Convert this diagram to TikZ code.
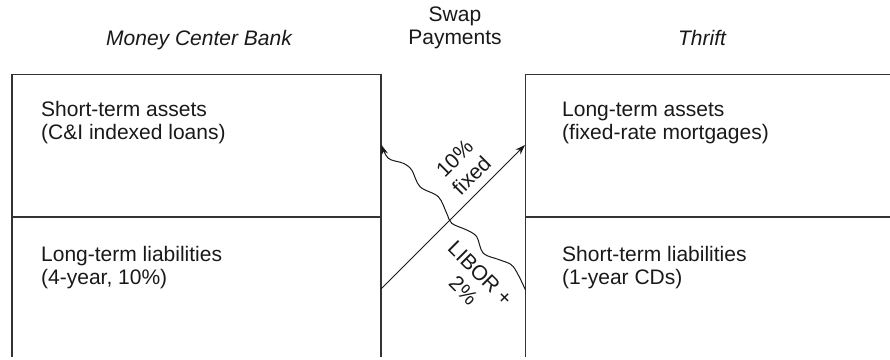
\documentclass[tikz,border=0pt]{standalone}
\usepackage{fontspec}
\setmainfont{Liberation Sans}
\usetikzlibrary{arrows.meta}
\begin{document}
\begin{tikzpicture}[x=1pt,y=-1pt,
  frame/.style={draw=black!80, line width=1.2pt},
  lbl/.style={font=\fontsize{21}{23}\selectfont, text=black!90, inner sep=0pt, align=left},
  hdr/.style={font=\fontsize{21}{23}\selectfont\itshape, text=black!90, inner sep=0pt},
  rlbl/.style={font=\fontsize{21}{24}\selectfont, text=black!90, inner sep=0pt, align=center},
  swap/.style={draw=black!90, line width=1pt, -{Stealth[length=10pt,width=7pt]}}]
\useasboundingbox (0,0) rectangle (890,359);
% frames
\coordinate (aTL) at (12,74.5);
\coordinate (aTR) at (381,74.5);
\coordinate (aBL) at (12,357);
\coordinate (aBR) at (381,357);
\coordinate (aML) at (12,217);
\coordinate (aMR) at (381,217);
\coordinate (bTL) at (525.5,74.5);
\coordinate (bTR) at (890,74.5);
\coordinate (bBL) at (525.5,357);
\coordinate (bML) at (525.5,217);
\coordinate (bMR) at (890,217);
\draw[frame] (aBL) -- (aTL) -- (aTR) -- (aBR);
\draw[frame] (aML) -- (aMR);
\draw[frame] (bTR) -- (bTL) -- (bBL);
\draw[frame] (bML) -- (bMR);
% headers
\node[hdr, anchor=base] (mcb) at (199,45) {Money Center Bank};
\node[hdr, anchor=base] (thr) at (702,45) {Thrift};
\node[rlbl, anchor=north, font=\fontsize{21}{23}\selectfont] (swp) at (455,7) {Swap\\Payments};
% box texts
\node[lbl, anchor=north west] (sta) at (41,101.5) {Short-term assets\\(C\&I indexed loans)};
\node[lbl, anchor=north west] (ltl) at (41,246.5) {Long-term liabilities\\(4-year, 10\%)};
\node[lbl, anchor=north west] (lta) at (562,101.5) {Long-term assets\\(fixed-rate mortgages)};
\node[lbl, anchor=north west] (stl) at (562,246.5) {Short-term liabilities\\(1-year CDs)};
% swap arrows
\coordinate (mL) at (381,289);
\coordinate (mU) at (381.5,145);
\coordinate (tL) at (525.5,290);
\coordinate (tU) at (525,145);
\draw[swap] (mL) -- (tU);
\draw[swap] plot[smooth, tension=0.55] coordinates {(tL) (513.3,266.7) (500,260) (483.3,253.3) (476.7,236.7) (466.7,230) (451.7,223.3) (446.7,213.3) (438.3,196.7) (420,186.7) (411.7,170) (403.3,163.3) (388.3,158.3) (mU)};
\node[rlbl, rotate=45] (fix) at (463,167) {10\%\\fixed};
\node[rlbl, rotate=-45] (lib) at (472,282) {LIBOR +\\2\%};
\end{tikzpicture}
\end{document}
